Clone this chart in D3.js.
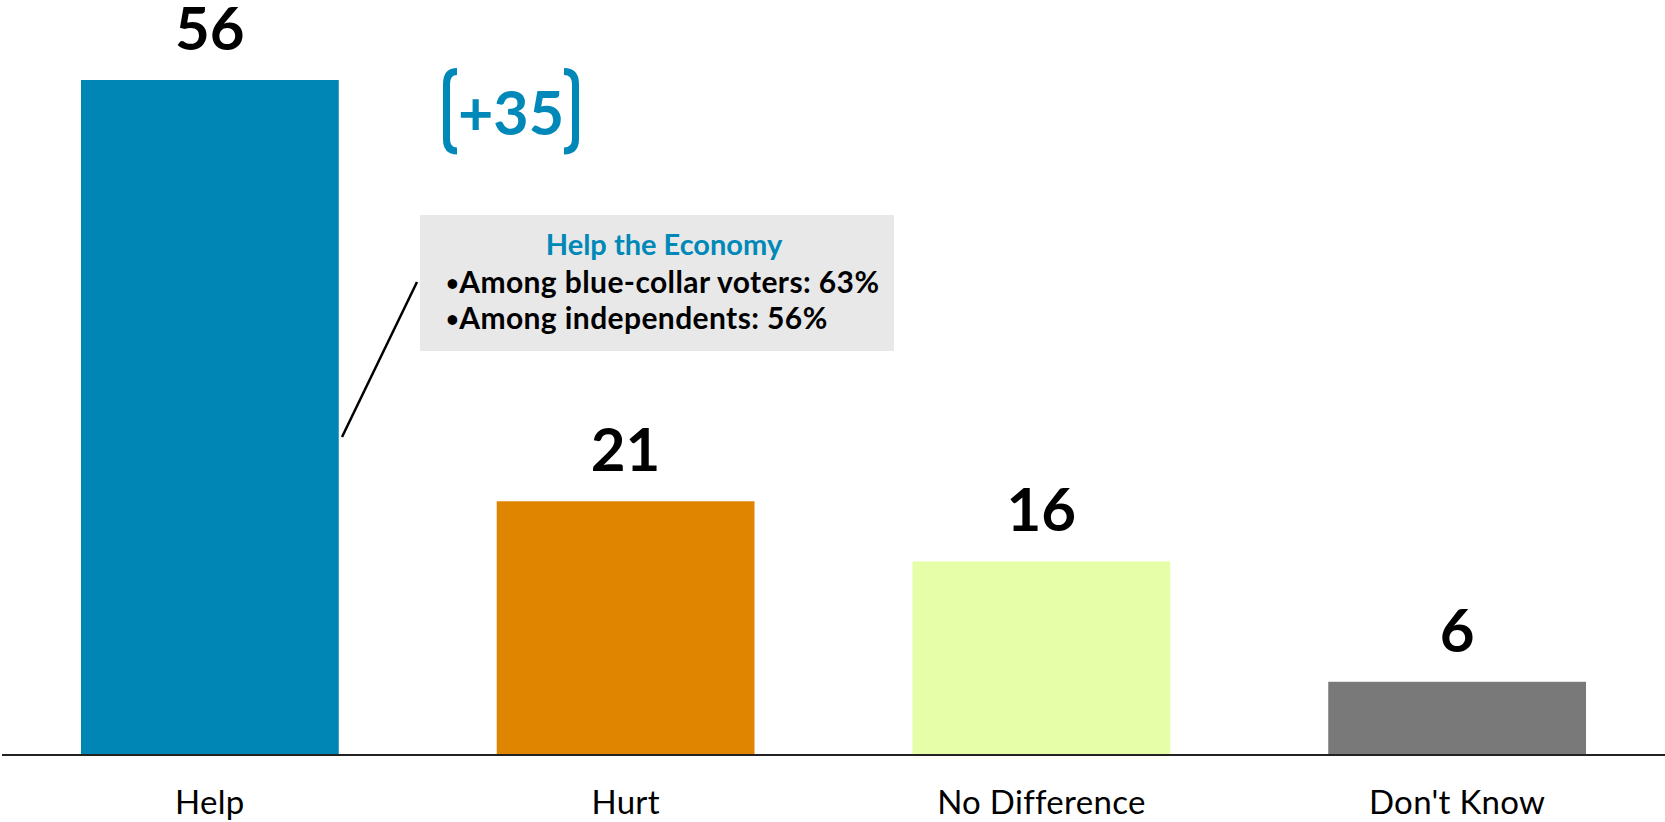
<!DOCTYPE html>
<html>
<head>
<meta charset="utf-8">
<script src="https://cdn.jsdelivr.net/npm/d3@7"></script>
<style>
  body { margin: 0; background: #fff; }
  svg { display: block; font-family: Lato, "Open Sans", sans-serif; }
</style>
</head>
<body>
<div id="chart"></div>
<script>
// data
const categories = ["Help", "Hurt", "No Difference", "Don't Know"];
const values = [56, 21, 16, 6];
const barColors = ["#0086b5", "#df8500", "#e6fea8", "#797979"];
const netLabel = "+35";
const calloutTitle = "Help the Economy";
const calloutLines = ["Among blue-collar voters: 63%", "Among independents: 56%"];

const W = 1665, H = 822;
const baseY = 754, topY = 80;
const blue = "#0088b8";

const svg = d3.select("#chart")
    .append("svg")
    .attr("width", W)
    .attr("height", H);

/* scales */
const x = d3.scaleBand()
    .domain(categories)
    .range([2, W])
    .paddingInner(0.38)
    .paddingOuter(0.19);

const y = d3.scaleLinear()
    .domain([0, d3.max(values)])
    .range([baseY, topY]);

const data = categories.map((c, i) => ({cat: c, value: values[i], color: barColors[i]}));

/* bars */
svg.selectAll("rect.bar")
    .data(data)
    .enter()
    .append("rect")
    .attr("class", "bar")
    .attr("x", d => x(d.cat))
    .attr("y", d => y(d.value))
    .attr("width", x.bandwidth())
    .attr("height", d => baseY - y(d.value))
    .attr("fill", d => d.color);

/* value labels */
svg.selectAll("text.val")
    .data(data)
    .enter()
    .append("text")
    .attr("class", "val")
    .attr("x", d => x(d.cat) + x.bandwidth() / 2)
    .attr("y", d => y(d.value) - 30)
    .attr("text-anchor", "middle")
    .attr("font-size", 60)
    .attr("font-weight", "bold")
    .attr("fill", "#000")
    .text(d => d.value);

/* x axis: baseline line + category labels */
svg.append("line")
    .attr("x1", 2)
    .attr("x2", W)
    .attr("y1", baseY + 1)
    .attr("y2", baseY + 1)
    .attr("stroke", "#222")
    .attr("stroke-width", 2);

svg.selectAll("text.cat")
    .data(categories)
    .enter()
    .append("text")
    .attr("class", "cat")
    .attr("x", d => x(d) + x.bandwidth() / 2)
    .attr("y", 814)
    .attr("text-anchor", "middle")
    .attr("font-size", 33)
    .attr("letter-spacing", 0.3)
    .attr("fill", "#000")
    .text(d => d);

/* net difference in brackets */
const net = svg.append("g");
net.append("path")
    .attr("d", "M457,71.5 Q446.5,71.5 446.5,84 V139 Q446.5,151 457,151")
    .attr("fill", "none")
    .attr("stroke", blue)
    .attr("stroke-width", 7);
net.append("path")
    .attr("d", "M564,71.5 Q575.5,71.5 575.5,84 V139 Q575.5,151 564,151")
    .attr("fill", "none")
    .attr("stroke", blue)
    .attr("stroke-width", 7);
net.append("text")
    .attr("x", 511)
    .attr("y", 135)
    .attr("text-anchor", "middle")
    .attr("font-size", 61)
    .attr("font-weight", "bold")
    .attr("fill", blue)
    .text(netLabel);

/* callout box */
svg.append("line")
    .attr("x1", 342)
    .attr("y1", 437)
    .attr("x2", 417)
    .attr("y2", 282)
    .attr("stroke", "#000")
    .attr("stroke-width", 2.5);

svg.append("rect")
    .attr("x", 420)
    .attr("y", 215)
    .attr("width", 474)
    .attr("height", 136)
    .attr("fill", "#e8e8e8");

svg.append("text")
    .attr("x", 664)
    .attr("y", 255)
    .attr("text-anchor", "middle")
    .attr("font-size", 29)
    .attr("font-weight", "bold")
    .attr("fill", blue)
    .text(calloutTitle);

const notes = svg.selectAll("text.note")
    .data(calloutLines)
    .enter()
    .append("text")
    .attr("class", "note")
    .attr("x", 446)
    .attr("y", (d, i) => 293 + i * 36)
    .attr("font-size", 30)
    .attr("font-weight", "bold")
    .attr("letter-spacing", 0.4)
    .attr("fill", "#000");
notes.append("tspan")
    .attr("font-size", 22)
    .attr("dy", -2)
    .text("\u2022");
notes.append("tspan")
    .attr("dy", 2)
    .text(d => d);
</script>
</body>
</html>
